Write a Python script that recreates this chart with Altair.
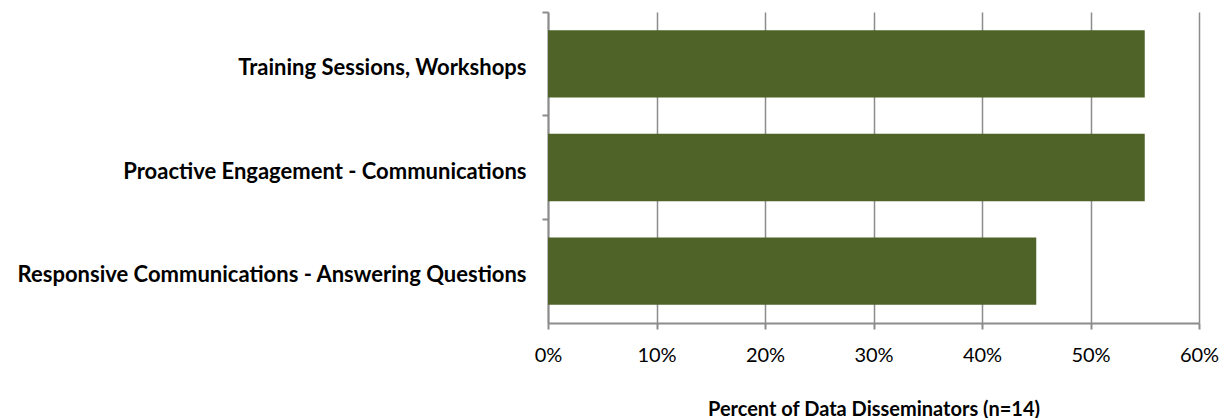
import altair as alt
import pandas as pd

categories = [
    "Training Sessions, Workshops",
    "Proactive Engagement - Communications",
    "Responsive Communications - Answering Questions",
]
values = [0.55, 0.55, 0.45]

df = pd.DataFrame({"category": categories, "value": values})

FONT = "Lato"
GRID = "#8c8c8c"

chart = alt.Chart(df).mark_bar(
    color="#4F6228", height={"band": 0.65}
).encode(
    x=alt.X(
        "value:Q",
        scale=alt.Scale(domain=[0, 0.6], nice=False, zero=True),
        axis=alt.Axis(
            format=".0%",
            values=[0, 0.1, 0.2, 0.3, 0.4, 0.5, 0.6],
            title="Percent of Data Disseminators (n=14)",
            titleFont=FONT,
            titleFontSize=20,
            titleFontWeight="bold",
            titleColor="#000000",
            titlePadding=34,
            labelFont=FONT,
            labelFontSize=20,
            labelColor="#000000",
            labelPadding=16,
            labelFlush=False,
            labelOverlap=False,
            tickSize=6,
            tickColor=GRID,
            tickWidth=2,
            domainColor=GRID,
            domainWidth=2,
            grid=True,
            gridColor=GRID,
            gridWidth=1.5,
        ),
    ),
    y=alt.Y(
        "category:N",
        sort=categories,
        scale=alt.Scale(paddingInner=0, paddingOuter=0),
        axis=alt.Axis(
            title=None,
            labelFont=FONT,
            labelFontSize=22,
            labelFontWeight="bold",
            labelColor="#000000",
            labelPadding=16,
            labelOffset=4,
            labelLimit=0,
            tickSize=6,
            tickColor=GRID,
            tickWidth=2,
            bandPosition=0,
            domainColor=GRID,
            domainWidth=2,
            grid=False,
        ),
    ),
).properties(
    width=651,
    height=311,
    autosize=alt.AutoSizeParams(type="none"),
    padding={"left": 548, "top": 12, "right": 30, "bottom": 95},
).configure_view(stroke=None)

chart.save("out.html", embed_options={"renderer": "svg", "actions": False})
